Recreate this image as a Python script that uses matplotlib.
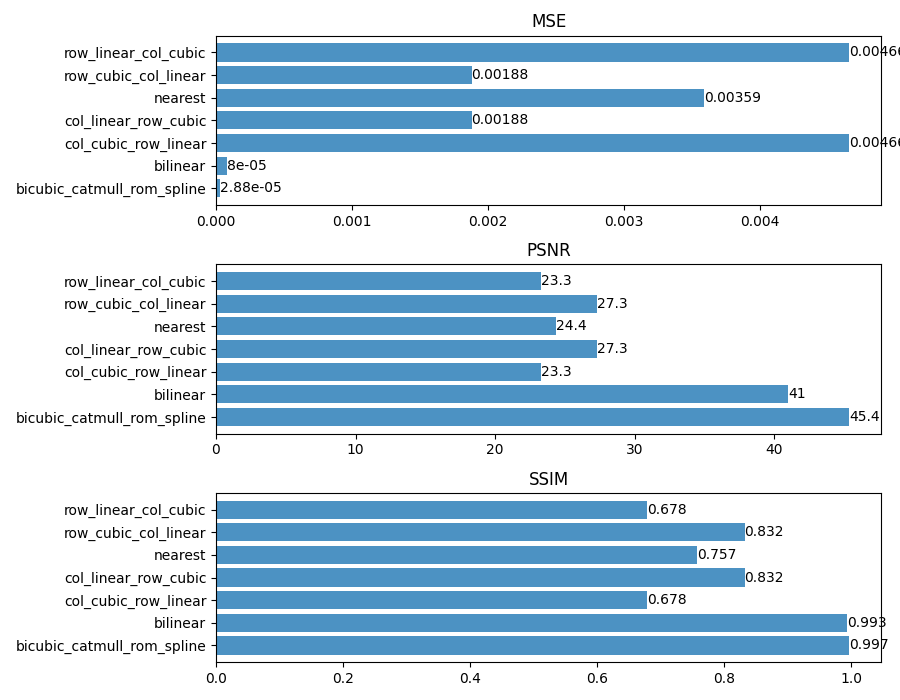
import matplotlib
matplotlib.use("Agg")
import matplotlib.pyplot as plt

# interpolation methods, bottom to top
methods = ["bicubic_catmull_rom_spline", "bilinear", "col_cubic_row_linear",
           "col_linear_row_cubic", "nearest", "row_cubic_col_linear",
           "row_linear_col_cubic"]

mse = [2.88e-05, 8e-05, 0.00466, 0.00188, 0.00359, 0.00188, 0.00466]
psnr = [45.4, 41, 23.3, 27.3, 24.4, 27.3, 23.3]
ssim = [0.997, 0.993, 0.678, 0.832, 0.757, 0.832, 0.678]

metrics = [("MSE", mse), ("PSNR", psnr), ("SSIM", ssim)]

fig, axes = plt.subplots(3, 1, figsize=(9, 7), dpi=100)
for ax, (name, vals) in zip(axes, metrics):
    bars = ax.barh(methods, vals, color="tab:blue", alpha=0.8)
    ax.bar_label(bars, fmt="%.3g")
    ax.set_title(name)

plt.subplots_adjust(left=0.24, right=0.979, top=0.949, bottom=0.054, hspace=0.35)
plt.savefig("out.png")
